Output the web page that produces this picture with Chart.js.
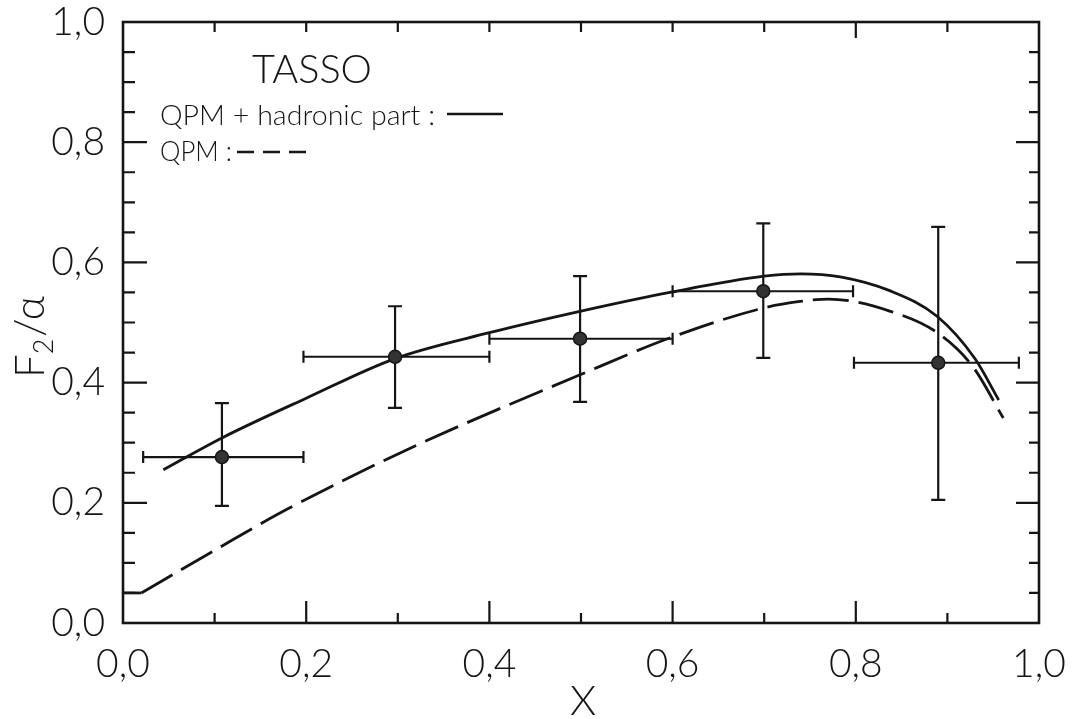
<!DOCTYPE html>
<html>
<head>
<meta charset="utf-8">
<script src="https://cdn.jsdelivr.net/npm/chart.js@4.4.0/dist/chart.umd.min.js"></script>
<style>
html,body{margin:0;padding:0;background:#fff;}
#wrap{width:1074px;height:719px;position:relative;}
</style>
</head>
<body>
<div id="wrap"><canvas id="mycanvas"></canvas></div>
<script>
// TASSO data points with x / y error ranges
var pointX=[0.108,0.297,0.499,0.699,0.890];
var pointY=[0.276,0.443,0.473,0.552,0.433];
var xLow=[0.022,0.197,0.400,0.600,0.798];
var xHigh=[0.197,0.400,0.600,0.797,0.978];
var yLow=[0.195,0.358,0.368,0.441,0.205];
var yHigh=[0.366,0.527,0.577,0.665,0.659];

// QPM + hadronic part (solid)
var solidX=[0.044,0.108,0.200,0.297,0.400,0.500,0.600,0.700,0.740,0.783,0.837,0.889,0.930,0.956];
var solidY=[0.255,0.308,0.374,0.440,0.483,0.519,0.551,0.577,0.581,0.576,0.553,0.510,0.440,0.371];

// QPM (dashed): short flat start, then the curve
var dashFlatX=[0.000,0.020];
var dashFlatY=[0.050,0.050];
var dashX=[0.020,0.100,0.180,0.321,0.499,0.600,0.699,0.739,0.770,0.837,0.890,0.928,0.961];
var dashY=[0.050,0.121,0.190,0.296,0.413,0.476,0.524,0.535,0.539,0.519,0.482,0.426,0.341];

var tickLabels=['0,0','0,2','0,4','0,6','0,8','1,0'];

var ink='#151515';
var fontFam='Lato, "DejaVu Sans", sans-serif';

function pairs(xs,ys){
	var out=[];
	for(var i=0;i<xs.length;i++){ out.push({x:xs[i],y:ys[i]}); }
	return out;
}

function fitText(c,text,x,y,w){
	var m=c.measureText(text).width;
	c.save();
	c.translate(x,y);
	c.scale(w/m,1);
	c.fillText(text,0,0);
	c.restore();
}

var errorBars={
	id:'errorBars',
	beforeDatasetsDraw:function(chart){
		var c=chart.ctx, xs=chart.scales.x, ys=chart.scales.y;
		c.save();
		c.strokeStyle=ink;
		c.lineWidth=2.2;
		for(var i=0;i<pointX.length;i++){
			var px=xs.getPixelForValue(pointX[i]), py=ys.getPixelForValue(pointY[i]);
			var x0=xs.getPixelForValue(xLow[i]), x1=xs.getPixelForValue(xHigh[i]);
			var y0=ys.getPixelForValue(yLow[i]), y1=ys.getPixelForValue(yHigh[i]);
			c.beginPath();
			c.moveTo(x0,py); c.lineTo(x1,py);
			c.moveTo(px,y0); c.lineTo(px,y1);
			c.moveTo(x0,py-6); c.lineTo(x0,py+6);
			c.moveTo(x1,py-6); c.lineTo(x1,py+6);
			c.moveTo(px-7,y0); c.lineTo(px+7,y0);
			c.moveTo(px-7,y1); c.lineTo(px+7,y1);
			c.stroke();
		}
		c.restore();
	}
};

var frame={
	id:'frame',
	afterDatasetsDraw:function(chart){
		var c=chart.ctx, a=chart.chartArea, xs=chart.scales.x, ys=chart.scales.y;
		c.save();
		c.strokeStyle=ink;
		c.lineWidth=2.6;
		c.strokeRect(a.left,a.top,a.right-a.left,a.bottom-a.top);
		c.lineWidth=2.2;
		c.beginPath();
		// x ticks every 0.1, pointing inward
		for(var k=1;k<10;k++){
			var px=xs.getPixelForValue(k/10);
			var big=(k%2==0);
			c.moveTo(px,a.bottom); c.lineTo(px,a.bottom-(big?22:10));
			c.moveTo(px,a.top); c.lineTo(px,a.top+(k==8?16:10));
		}
		// y ticks every 0.05
		for(var j=1;j<20;j++){
			var py=ys.getPixelForValue(j/20);
			var major=(j%4==0);
			c.moveTo(a.left,py); c.lineTo(a.left+(major?24:12),py);
			c.moveTo(a.right,py); c.lineTo(a.right-(major?23:10),py);
		}
		c.stroke();
		c.restore();
	},
	afterDraw:function(chart){
		var c=chart.ctx;
		c.save();
		c.fillStyle=ink;
		c.strokeStyle=ink;
		c.textBaseline='alphabetic';
		// header text
		c.font='300 39px '+fontFam;
		fitText(c,'TASSO',252,83,120);
		c.font='300 27px '+fontFam;
		fitText(c,'QPM + hadronic part :',160,125,275);
		fitText(c,'QPM :',160,161,72);
		c.lineWidth=2.6;
		c.beginPath();
		c.moveTo(447,114); c.lineTo(503,114);
		c.stroke();
		c.setLineDash([17,9]);
		c.beginPath();
		c.moveTo(237,152); c.lineTo(307,152);
		c.stroke();
		c.setLineDash([]);
		// axis titles
		c.font='300 42px '+fontFam;
		c.textAlign='center';
		c.fillText('X',583,715);
		c.translate(44,338);
		c.rotate(-Math.PI/2);
		c.textAlign='left';
		var wF=c.measureText('F').width;
		c.font='300 27px '+fontFam;
		var w2=c.measureText('2').width;
		c.font='300 42px '+fontFam;
		var wA=c.measureText('/\u03b1').width;
		var start=-(wF+w2+wA)/2;
		c.fillText('F',start,0);
		c.font='300 27px '+fontFam;
		c.fillText('2',start+wF,9);
		c.font='300 42px '+fontFam;
		c.fillText('/\u03b1',start+wF+w2+2,0);
		c.restore();
	}
};

var lineStyle={
	type:'line',
	borderColor:ink,
	borderWidth:2.8,
	pointRadius:0,
	fill:false,
	cubicInterpolationMode:'monotone'
};

var ctx=document.getElementById('mycanvas');
var chart=new Chart(ctx,{
	type:'scatter',
	data:{
		datasets:[
			{
				label:'data',
				data:pairs(pointX,pointY),
				pointRadius:6.5,
				pointBackgroundColor:'#333',
				pointBorderColor:ink,
				pointBorderWidth:1.5,
				showLine:false,
				order:0
			},
			Object.assign({label:'QPM + hadronic part',data:pairs(solidX,solidY),order:1},lineStyle),
			Object.assign({label:'QPM',data:pairs(dashX,dashY),borderDash:[36,10],order:2},lineStyle),
			Object.assign({label:'QPM start',data:pairs(dashFlatX,dashFlatY),order:3},lineStyle)
		]
	},
	options:{
		responsive:true,
		maintainAspectRatio:false,
		animation:false,
		layout:{padding:{top:22,right:35,left:0,bottom:0}},
		plugins:{legend:{display:false},tooltip:{enabled:false}},
		scales:{
			x:{
				type:'linear',min:0,max:1,
				grid:{display:false},
				border:{display:false},
				ticks:{
					stepSize:0.2,
					color:ink,
					font:{family:fontFam,size:39,weight:'300'},
					padding:10,
					maxRotation:0,
					autoSkip:false,
					callback:function(v){ return tickLabels[Math.round(v*5)]; }
				},
				afterFit:function(s){ s.height=96; s.paddingLeft=0; s.paddingRight=0; }
			},
			y:{
				type:'linear',min:0,max:1,
				grid:{display:false},
				border:{display:false},
				ticks:{
					stepSize:0.2,
					color:ink,
					font:{family:fontFam,size:39,weight:'300'},
					padding:10,
					callback:function(v){ return tickLabels[Math.round(v*5)]; }
				},
				afterFit:function(s){ s.width=123; s.paddingTop=0; s.paddingBottom=0; }
			}
		}
	},
	plugins:[errorBars,frame]
});
</script>
</body>
</html>
